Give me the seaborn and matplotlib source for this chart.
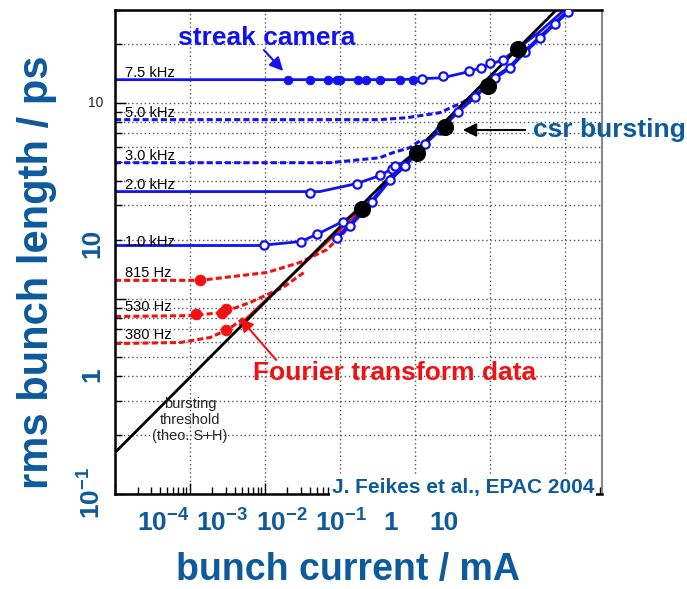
import matplotlib
matplotlib.use('Agg')
import matplotlib.pyplot as plt
from matplotlib.ticker import LogLocator, NullFormatter
import seaborn as sns

# ---- data (bunch current / mA, rms bunch length / ps) ----
# fitted curves per synchrotron frequency
c75_x = [1e-5, 0.00293, 0.063, 0.236, 0.525, 1.0, 1.49, 2.36, 4.64, 10.0]
c75_y = [13.2, 13.2, 13.2, 13.5, 14.5, 15.7, 16.7, 19.0, 23.2, 30.1]
c50_x = [1e-5, 0.0341, 0.078, 0.215, 0.437, 0.692]
c50_y = [8.24, 8.24, 8.43, 8.94, 10.1, 11.3]
c30_x = [1e-5, 0.00736, 0.0341, 0.0509, 0.0858, 0.124]
c30_y = [4.96, 4.96, 5.26, 5.58, 5.92, 6.51]
c20_x = [1e-5, 0.0054, 0.0169, 0.0341, 0.063, 0.1]
c20_y = [3.53, 3.53, 3.88, 4.26, 4.85, 5.58]
c10_x = [1e-5, 0.000858, 0.00302, 0.00493, 0.011, 0.0196]
c10_y = [1.87, 1.87, 1.96, 2.13, 2.48, 2.89]
c815_x = [1e-5, 0.000136, 0.00106, 0.00293, 0.00671, 0.0117]
c815_y = [1.24, 1.24, 1.36, 1.53, 1.78, 2.20]
c530_x = [1e-5, 1e-4, 0.000267, 0.00063, 0.00174, 0.00341]
c530_y = [0.81, 0.818, 0.848, 0.954, 1.14, 1.37]
c380_x = [1e-5, 7.36e-5, 0.000185, 0.000321, 0.000541]
c380_y = [0.589, 0.596, 0.632, 0.694, 0.80]

# streak camera measurements
s75_x = [0.00203, 0.00398, 0.00692, 0.00912, 0.01, 0.0174, 0.0222, 0.0341, 0.063, 0.094]
s75_y = [13.2] * 10
s75o_x = [0.124, 0.236, 0.525, 0.759, 1.0, 1.49]
s75o_y = [13.3, 13.8, 14.7, 15.2, 16.1, 16.7]
s20_x = [0.00398, 0.0169, 0.0341, 0.0493, 0.054]
s20_y = [3.48, 3.88, 4.31, 4.62, 4.79]
s10_x = [0.00097, 0.00302, 0.00493, 0.011]
s10_y = [1.87, 1.96, 2.13, 2.48]
burst_x = [0.0091, 0.0136, 0.0267, 0.0464, 0.0736, 0.136, 0.215, 0.374, 0.631,
           1.17, 1.85, 2.93, 4.64, 7.36, 11.0]
burst_y = [2.05, 2.36, 3.13, 4.06, 4.79, 6.21, 7.32, 9.05, 10.8,
           13.5, 15.2, 18.3, 21.6, 25.5, 29.4]

# Fourier transform measurements
f815_x = [0.000136]
f815_y = [1.24]
f530_x = [0.00012, 0.000267, 0.000302]
f530_y = [0.838, 0.848, 0.889]
f380_x = [0.000302]
f380_y = [0.694]
ft_x = [0.000464, 0.00293, 0.0196]
ft_y = [0.736, 1.44, 2.85]

# bursting threshold (theory) and csr bursting onsets
thr_x = [1e-5, 7.82]
thr_y = [0.163, 30.1]
onset_x = [0.0196, 0.106, 0.251, 0.94, 2.36]
onset_y = [2.89, 5.58, 7.58, 12.3, 19.0]

freq_labels = ['7.5 kHz', '5.0 kHz', '3.0 kHz', '2.0 kHz', '1.0 kHz', '815 Hz', '530 Hz', '380 Hz']
freq_label_py = [73, 113, 156, 185, 242, 273, 307, 335]
xtick_text = [r'$\mathbf{10^{-4}}$', r'$\mathbf{10^{-3}}$', r'$\mathbf{10^{-2}}$',
              r'$\mathbf{10^{-1}}$', '1', '10']
xtick_px = [163, 222, 282, 341, 391, 444]
ytick_text = [r'$\mathbf{10^{-1}}$', '1', '10']
ytick_py = [493, 375, 243]

BLUE = '#1212ee'
RED = '#f01212'
DBLUE = '#0d5a9c'
W, H = 687, 589

sns.set_style('white')
plt.rcParams['font.family'] = ['Liberation Sans', 'DejaVu Sans']
plt.rcParams['mathtext.fontset'] = 'custom'
plt.rcParams['mathtext.rm'] = 'Liberation Sans'
plt.rcParams['mathtext.bf'] = 'Liberation Sans:bold'


def fp(px, py):
    return (px / W, 1 - py / H)


fig = plt.figure(figsize=(W / 100, H / 100), dpi=100, facecolor='white')
ax = fig.add_axes([115 / W, 1 - 494 / H, (602 - 115) / W, (494 - 10) / H])
ax.set_xscale('log')
ax.set_yscale('log')

dash = (0, (2, 1))
curves = [(c75_x, c75_y, BLUE, '-', 2.0), (c50_x, c50_y, BLUE, dash, 2.2),
          (c30_x, c30_y, BLUE, dash, 2.2), (c20_x, c20_y, BLUE, '-', 2.0),
          (c10_x, c10_y, BLUE, '-', 2.0), (c815_x, c815_y, RED, dash, 2.2),
          (c530_x, c530_y, RED, dash, 2.2), (c380_x, c380_y, RED, dash, 2.2)]
for cx, cy, col, ls, lw in curves:
    sns.lineplot(x=cx, y=cy, color=col, linestyle=ls, linewidth=lw, ax=ax,
                 estimator=None, sort=False)

sns.lineplot(x=ft_x, y=ft_y, color=RED, linewidth=1.8, ax=ax, estimator=None, sort=False)
sns.lineplot(x=burst_x, y=burst_y, color=BLUE, linewidth=3, ax=ax, estimator=None, sort=False)
sns.lineplot(x=thr_x, y=thr_y, color='black', linewidth=2, ax=ax, estimator=None, sort=False)

sns.scatterplot(x=s75_x, y=s75_y, color=BLUE, s=40, edgecolor=BLUE, ax=ax, zorder=4)
for ox, oy in [(s75o_x, s75o_y), (s20_x, s20_y), (s10_x, s10_y), (burst_x, burst_y)]:
    sns.scatterplot(x=ox, y=oy, facecolor='white', edgecolor=BLUE, linewidth=1.6,
                    s=36, ax=ax, zorder=4)
for rx, ry in [(f815_x, f815_y), (f530_x, f530_y), (f380_x, f380_y)]:
    sns.scatterplot(x=rx, y=ry, color=RED, edgecolor=RED, s=60, ax=ax, zorder=4)
sns.scatterplot(x=onset_x, y=onset_y, color='black', edgecolor='black', s=130, ax=ax, zorder=5)

ax.set_xlim(1e-5, 10 ** 1.5)
ax.set_ylim(0.1, 30)
ax.xaxis.set_major_locator(LogLocator(base=10, numticks=20))
ax.xaxis.set_minor_locator(LogLocator(base=10, subs=range(2, 10), numticks=20))
ax.yaxis.set_major_locator(LogLocator(base=10, numticks=20))
ax.yaxis.set_minor_locator(LogLocator(base=10, subs=range(2, 10), numticks=20))
ax.xaxis.set_minor_formatter(NullFormatter())
ax.yaxis.set_minor_formatter(NullFormatter())
ax.tick_params(which='both', direction='in', labelbottom=False, labelleft=False,
               bottom=True, left=True, color='black')
ax.tick_params(which='major', length=8, width=1)
ax.tick_params(which='minor', length=5, width=1)
ax.grid(True, which='major', axis='x', color='#555555', linestyle=(0, (1, 2)), linewidth=1)
ax.grid(True, which='both', axis='y', color='#555555', linestyle=(0, (1, 2)), linewidth=1)
ax.set_xlabel('')
ax.set_ylabel('')
for side in ['left', 'bottom', 'top']:
    ax.spines[side].set_color('black')
    ax.spines[side].set_linewidth(1.8)
ax.spines['right'].set_color('#888888')
ax.spines['right'].set_linewidth(1.5)

# small labels inside plot
for lab, py in zip(freq_labels, freq_label_py):
    fig.text(*fp(125, py), lab, fontsize=10.5, color='black', ha='left', va='center')
fig.text(*fp(190, 420), 'bursting\nthreshold\n(theo. S+H)', fontsize=10.5,
         ha='center', va='center', linespacing=1.15)
fig.text(*fp(96, 103), '10', fontsize=10, ha='center', va='center')

# annotations
fig.text(*fp(267, 38), 'streak camera', fontsize=19, fontweight='bold', color=BLUE,
         ha='center', va='center')
ax.annotate('', xy=fp(285, 73), xytext=fp(262, 48), xycoords='figure fraction',
            arrowprops=dict(arrowstyle='-|>', color=BLUE, lw=1.5, mutation_scale=20))
fig.text(*fp(609, 130), 'csr bursting', fontsize=19, fontweight='bold', color=DBLUE,
         ha='center', va='center')
ax.annotate('', xy=fp(460, 130), xytext=fp(528, 130), xycoords='figure fraction',
            arrowprops=dict(arrowstyle='-|>', color='black', lw=1.5, mutation_scale=20))
fig.text(*fp(395, 373), 'Fourier transform data', fontsize=19, fontweight='bold',
         color=RED, ha='center', va='center')
ax.annotate('', xy=fp(238, 316), xytext=fp(278, 362), xycoords='figure fraction',
            arrowprops=dict(arrowstyle='-|>', color=RED, lw=1.5, mutation_scale=20))
fig.text(*fp(463, 488), 'J. Feikes et al., EPAC 2004', fontsize=15, fontweight='bold',
         color=DBLUE, ha='center', va='center', zorder=10,
         bbox=dict(facecolor='white', edgecolor='none', pad=1.5))

# big overlay axis labels
for lab, px in zip(xtick_text, xtick_px):
    fig.text(*fp(px, 523), lab, fontsize=19, fontweight='bold', color=DBLUE,
             ha='center', va='center')
for lab, py in zip(ytick_text, ytick_py):
    fig.text(*fp(92, py), lab, fontsize=19, fontweight='bold', color=DBLUE,
             ha='center', va='center', rotation=90)
fig.text(*fp(348, 570), 'bunch current / mA', fontsize=27, fontweight='bold',
         color=DBLUE, ha='center', va='center')
fig.text(*fp(37, 272), 'rms bunch length / ps', fontsize=30, fontweight='bold',
         color=DBLUE, ha='center', va='center', rotation=90)

fig.savefig('out.png', dpi=100, facecolor='white')
